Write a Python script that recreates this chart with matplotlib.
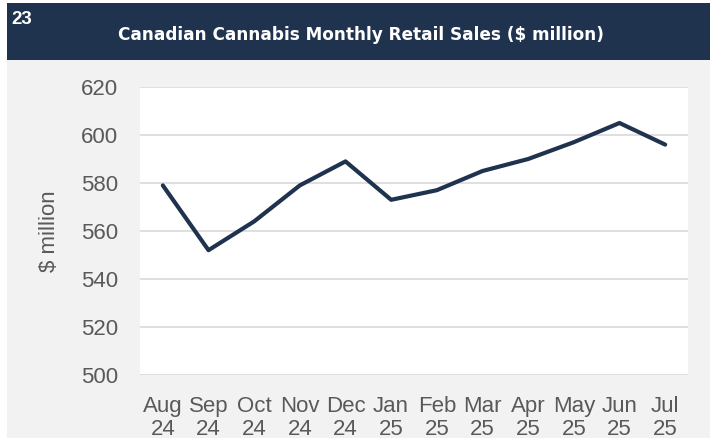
import matplotlib
matplotlib.use('Agg')
import matplotlib.pyplot as plt
from matplotlib.patches import Rectangle

# Monthly retail sales, $ million
months = ['Aug\n24', 'Sep\n24', 'Oct\n24', 'Nov\n24', 'Dec\n24', 'Jan\n25',
          'Feb\n25', 'Mar\n25', 'Apr\n25', 'May\n25', 'Jun\n25', 'Jul\n25']
sales = [579, 552, 564, 579, 589, 573, 577, 585, 590, 597, 605, 596]
y_ticks = [500, 520, 540, 560, 580, 600, 620]

navy = '#1f334f'
grey_txt = '#595959'

fig = plt.figure(figsize=(7.1, 4.38), dpi=100, facecolor='white')
W, H = 710., 438.

# panel background and header band (pixel coords converted to figure fractions)
fig.patches.append(Rectangle((7 / W, 0), 1 - 7 / W, (438 - 60) / H,
                             transform=fig.transFigure, facecolor='#f2f2f2',
                             edgecolor='none', zorder=-2))
fig.patches.append(Rectangle((7 / W, (438 - 60) / H), 1 - 7 / W, 57 / H,
                             transform=fig.transFigure, facecolor=navy,
                             edgecolor='none', zorder=-2))
fig.text(11 / W, 1 - 19 / H, '23', color='white', fontsize=13.5,
         fontweight='bold', family='Liberation Sans', va='center', ha='left')
fig.text(361 / W, 1 - 35 / H, 'Canadian Cannabis Monthly Retail Sales ($ million)',
         color='white', fontsize=12.2, fontweight='bold', family='DejaVu Sans',
         va='center', ha='center')

ax = fig.add_axes([140 / W, 63 / H, 548 / W, 288 / H], zorder=2)
ax.set_facecolor('white')
x = list(range(len(months)))
ax.plot(x, sales, color=navy, lw=3, solid_capstyle='round', zorder=3)

ax.set_xlim(-0.5, len(months) - 0.5)
ax.set_ylim(500, 620)
ax.set_yticks(y_ticks)
ax.set_xticks(x)
ax.set_xticklabels(months)
ax.grid(axis='y', color='#d9d9d9', lw=1.2)
ax.set_axisbelow(True)
for s in ax.spines.values():
    s.set_visible(False)
ax.tick_params(axis='both', length=0, labelcolor=grey_txt, labelsize=16)
ax.tick_params(axis='y', pad=16)
ax.tick_params(axis='x', pad=15)
for lab in ax.get_xticklabels() + ax.get_yticklabels():
    lab.set_family('Liberation Sans')
    lab.set_linespacing(1.15)
ax.set_ylabel('$ million', fontsize=16, color=grey_txt, family='Liberation Sans',
              labelpad=15)

fig.savefig('out.png', dpi=100, facecolor=fig.get_facecolor())
